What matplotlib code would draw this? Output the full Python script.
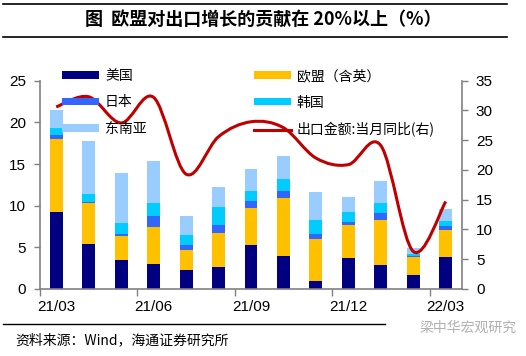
import matplotlib.pyplot as plt
import numpy as np
from matplotlib.path import Path
from matplotlib.patches import PathPatch
from matplotlib.lines import Line2D
from matplotlib.patches import Patch

plt.rcParams['font.family'] = ['Liberation Sans', 'Noto Sans CJK SC', 'DejaVu Sans']

# Data
months = ['21/03', '21/04', '21/05', '21/06', '21/07', '21/08', '21/09',
          '21/10', '21/11', '21/12', '22/01', '22/02', '22/03']
us = [9.28, 5.40, 3.52, 3.04, 2.28, 2.64, 5.28, 3.92, 0.92, 3.72, 2.92, 1.64, 3.84]
eu = [8.76, 4.96, 2.88, 4.40, 2.40, 4.08, 4.48, 6.96, 5.04, 3.92, 5.36, 2.20, 3.20]
japan = [0.40, 0.05, 0.24, 1.36, 0.64, 1.00, 0.84, 0.88, 0.68, 0.44, 0.88, 0.12, 0.48]
korea = [0.88, 1.04, 1.28, 1.52, 1.16, 2.08, 1.16, 1.48, 1.64, 1.20, 1.16, 0.20, 0.60]
asean = [2.16, 6.32, 6.00, 5.00, 2.24, 2.48, 2.64, 2.68, 3.32, 1.80, 2.64, 0.76, 1.52]
export_yoy = [30.6, 32.3, 27.9, 32.2, 19.3, 25.6, 28.1, 27.1, 22.0, 20.9, 24.1, 6.3, 14.7]

series = [('美国', us, '#000080'),
          ('欧盟（含英）', eu, '#FFC000'),
          ('日本', japan, '#3366FF'),
          ('韩国', korea, '#00CCFF'),
          ('东南亚', asean, '#99CCFF')]
line_color = '#C00000'
axis_gray = '#808080'

fig = plt.figure(figsize=(5.26, 3.56), dpi=100)
ax = fig.add_axes([40/526, 1-289/356, 422/526, 208.3/356])
ax2 = ax.twinx()

x = np.arange(len(months))
bottom = np.zeros(len(months))
for name, vals, col in series:
    ax.bar(x, vals, width=0.4, bottom=bottom, color=col, linewidth=0, zorder=2)
    bottom += np.array(vals)

# smoothed line (Excel style) drawn as bezier path through the data points
pts = np.column_stack([x, export_yoy]).astype(float)
ext = np.vstack([pts[0], pts, pts[-1]])
verts = [tuple(pts[0])]
codes = [Path.MOVETO]
for i in range(len(pts) - 1):
    p0, p1, p2, p3 = ext[i], ext[i+1], ext[i+2], ext[i+3]
    c1 = p1 + (p2 - p0) / 6.0
    c2 = p2 - (p3 - p1) / 6.0
    verts += [tuple(c1), tuple(c2), tuple(p2)]
    codes += [Path.CURVE4] * 3
ax2.add_patch(PathPatch(Path(verts, codes), facecolor='none', edgecolor=line_color,
                        linewidth=2.2, zorder=3))

ax.set_xlim(-0.5, len(months) - 0.5)
ax.set_ylim(0, 25)
ax2.set_ylim(0, 35)
ax.set_yticks(np.arange(0, 26, 5))
ax2.set_yticks(np.arange(0, 36, 5))

# tick marks between groups, labels under bars
ax.set_xticks(np.arange(-0.5, len(months), 3))
ax.set_xticklabels([])
ax.set_xticks(np.arange(0, len(months), 3), minor=True)
ax.set_xticklabels([months[i] for i in range(0, len(months), 3)], minor=True)
ax.tick_params(axis='x', which='major', length=5, color=axis_gray, width=1)
ax.tick_params(axis='x', which='minor', length=0, pad=8, labelsize=11)
ax.tick_params(axis='y', length=4, color=axis_gray, width=1, pad=6, labelsize=11)
ax2.tick_params(axis='y', length=4, color=axis_gray, width=1, pad=6, labelsize=11)

for a in (ax, ax2):
    a.spines['top'].set_visible(False)
    for s in ('left', 'right', 'bottom'):
        a.spines[s].set_color(axis_gray)
        a.spines[s].set_linewidth(1.2)
ax2.spines['left'].set_visible(False)
ax2.spines['bottom'].set_visible(False)
ax.spines['right'].set_visible(False)

# legend
h = {name: Patch(facecolor=col, edgecolor='none') for name, vals, col in series}
hl = Line2D([], [], color=line_color, linewidth=2.2)
handles = [h['美国'], h['日本'], h['东南亚'], h['欧盟（含英）'], h['韩国'], hl]
labels = ['美国', '日本', '东南亚', '欧盟（含英）', '韩国', '出口金额:当月同比(右)']
leg = fig.legend(handles, labels, ncol=2, loc='upper left', bbox_to_anchor=(55/526, 1-62/356),
                 frameon=False, fontsize=10, handlelength=2.7, handleheight=0.5,
                 handletextpad=0.4, labelspacing=0.9, columnspacing=7.7, borderpad=0,
                 prop={'family': ['Noto Sans CJK SC', 'DejaVu Sans'], 'size': 10})

# title and rules
fig.text(0.5, 1-19/356, '图  欧盟对出口增长的贡献在 20%以上（%）', ha='center', va='center',
         fontsize=13, fontweight='bold', family=['Noto Sans CJK SC', 'DejaVu Sans'])
fig.add_artist(Line2D([3/526, 507/526], [1-3.5/356, 1-3.5/356], color='black', linewidth=1.2))
fig.add_artist(Line2D([3/526, 507/526], [1-36.5/356, 1-36.5/356], color='black', linewidth=1.2))
fig.add_artist(Line2D([3/526, 385/526], [1-324/356, 1-324/356], color='black', linewidth=1.0))

fig.text(15/526, 1-340/356, '资料来源：Wind，海通证券研究所', ha='left', va='center',
         fontsize=10, family=['Noto Sans CJK SC', 'DejaVu Sans'])
fig.text(420/526, 1-328/356, '梁中华宏观研究', ha='left', va='center', fontsize=10,
         color='#B0B0B0', family=['Noto Sans CJK SC', 'DejaVu Sans'])

fig.savefig('out.png', dpi=100)
